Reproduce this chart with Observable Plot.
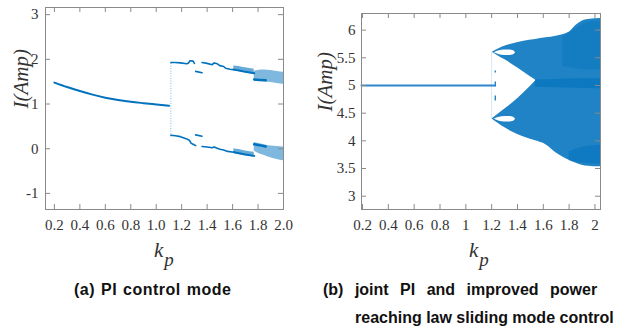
<!DOCTYPE html>
<html><head><meta charset="utf-8">
<script src="https://cdn.jsdelivr.net/npm/d3@7"></script>
<script src="https://cdn.jsdelivr.net/npm/@observablehq/plot@0.6"></script>
<style>
body{margin:0;background:#fff;}
#wrap{position:relative;width:625px;height:333px;overflow:hidden;background:#fff;}
.panel{position:absolute;top:0;}
.kp{position:absolute;font-family:"Liberation Serif","Tinos","Times New Roman",Times,"DejaVu Serif",serif;font-style:italic;font-size:21px;color:#333;line-height:1;white-space:nowrap;}
.kp .sub{font-size:19px;position:relative;top:9px;margin-left:1px;}
.cap{position:absolute;font-family:"Liberation Sans",Arial,Helvetica,sans-serif;font-weight:bold;font-size:16px;color:#111;white-space:nowrap;line-height:1;}
</style></head>
<body>
<div id="wrap">
  <div class="panel" id="pa" style="left:0px"></div>
  <div class="panel" id="pb" style="left:300px"></div>
  <div class="kp" style="left:154px;top:240px">k<span class="sub">p</span></div>
  <div class="kp" style="left:469px;top:240px">k<span class="sub">p</span></div>
  <div class="cap" style="left:74px;top:282px;letter-spacing:0.5px;word-spacing:1px">(a) PI control mode</div>
  <div class="cap" style="left:323px;top:282px;word-spacing:7px">(b) joint PI and improved power</div>
  <div class="cap" style="left:355px;top:310px">reaching law sliding mode control</div>
</div>
<script>
// ---------- Panel (a): PI control mode ----------
const xTicksA = [0.2, 0.4, 0.6, 0.8, 1.0, 1.2, 1.4, 1.6, 1.8, 2.0];
const yTicksA = [-1, 0, 1, 2, 3];
// stable equilibrium branch [kp, I]
const stableA = [[0.2,1.48],[0.3,1.38],[0.4,1.29],[0.5,1.21],[0.6,1.14],[0.7,1.09],[0.8,1.05],[0.9,1.02],[1.0,0.99],[1.1,0.96]];
// transient jump at bifurcation [kp, Ilow, Ihigh]
const jumpA = [[1.115, 0.26, 1.93]];
// period-2 branches [kp, I]
const upperA1 = [[1.115,1.93],[1.15,1.93],[1.19,1.92],[1.24,1.90],[1.255,1.92],[1.265,1.97],[1.29,1.96],[1.30,1.91]];
const upperA2 = [[1.36,1.93],[1.40,1.91],[1.44,1.88],[1.455,1.92],[1.48,1.90],[1.50,1.86],[1.53,1.84],[1.545,1.80],[1.58,1.78],[1.61,1.77]];
const upperA3 = [[1.31,1.73],[1.36,1.70]];
const lowerA1 = [[1.115,0.30],[1.15,0.29],[1.19,0.27],[1.24,0.22],[1.26,0.19],[1.275,0.12],[1.29,0.10],[1.31,0.07]];
const lowerA2 = [[1.36,0.05],[1.40,0.04],[1.44,0.02],[1.455,0.04],[1.48,0.01],[1.50,-0.01],[1.53,-0.03],[1.56,-0.06],[1.61,-0.08]];
const lowerA3 = [[1.31,0.31],[1.36,0.28]];
// chaotic bands [kp, Ilow, Ihigh]
const bandA1 = [[1.61,1.75,1.85],[1.65,1.73,1.84],[1.70,1.70,1.81],[1.77,1.66,1.78]];
const bandA2 = [[1.77,1.50,1.73],[1.80,1.51,1.75],[1.85,1.50,1.76],[1.90,1.48,1.75],[1.95,1.46,1.73],[2.0,1.44,1.71]];
const bandA3 = [[1.61,-0.10,0.00],[1.65,-0.13,-0.02],[1.70,-0.16,-0.05],[1.77,-0.19,-0.08]];
const bandA4 = [[1.77,-0.05,0.14],[1.80,-0.10,0.12],[1.85,-0.15,0.09],[1.90,-0.20,0.06],[1.95,-0.24,0.05],[2.0,-0.27,0.04]];
// dense edges inside chaotic bands [kp, I]
const denseA1 = [[1.61,1.77],[1.65,1.75],[1.70,1.72],[1.77,1.69]];
const denseA2 = [[1.77,1.55],[1.81,1.54],[1.86,1.53]];
const denseA3 = [[1.61,-0.08],[1.65,-0.10],[1.70,-0.13],[1.77,-0.16]];
const denseA4 = [[1.77,0.10],[1.81,0.08],[1.86,0.05]];

// ---------- Panel (b): joint PI + sliding mode control ----------
const xTicksB = [0.2, 0.4, 0.6, 0.8, 1, 1.2, 1.4, 1.6, 1.8, 2];
const yTicksB = [3, 3.5, 4, 4.5, 5, 5.5, 6];
const stableB = [[0.192,5.0],[1.225,5.0]];
const jumpB = [[1.228, 4.72, 5.26]];
// chaotic cloud envelope [kp, Ilow, Ihigh]
const cloudB = [[1.205,4.39,5.60],[1.26,4.30,5.67],[1.30,4.24,5.71],[1.36,4.16,5.75],[1.45,4.07,5.80],[1.54,4.00,5.83],[1.62,3.93,5.86],[1.70,3.78,5.89],[1.80,3.65,5.96],[1.85,3.60,6.08],[1.90,3.56,6.16],[1.95,3.54,6.19],[2.043,3.53,6.21]];
// empty V between the two arms [kp, Ilow, Ihigh]
const gapB = [[1.205,4.40,5.60],[1.26,4.50,5.52],[1.30,4.57,5.47],[1.36,4.68,5.38],[1.45,4.87,5.24],[1.54,5.08,5.10]];
// small holes at the arm tips [kp, Ilow, Ihigh]
const holeUpB = [[1.22,5.59,5.59],[1.26,5.555,5.625],[1.30,5.54,5.64],[1.34,5.54,5.64],[1.37,5.555,5.625],[1.385,5.59,5.59]];
const holeLowB = [[1.22,4.39,4.39],[1.26,4.355,4.425],[1.30,4.34,4.44],[1.34,4.34,4.44],[1.37,4.355,4.425],[1.385,4.39,4.39]];
// denser sub-regions [kp, Ilow, Ihigh]
const denseB1 = [[1.54,4.97,5.10],[1.70,4.96,5.11],[1.85,4.95,5.12],[2.043,4.94,5.12]];
const denseB2 = [[1.80,3.64,3.80],[1.90,3.60,3.88],[2.043,3.58,3.92]];
const denseB3 = [[1.75,5.35,5.88],[1.85,5.30,6.02],[1.95,5.28,6.14],[2.043,5.28,6.16]];

const blue = "#0072BD";
const frameC = "#8a8a8a";
const serif = "'Liberation Serif', Tinos, 'Times New Roman', Times, 'DejaVu Serif', serif";

function boxTicks(xt, yt, fw, fh, len) {
  return [
    Plot.tickX(xt, {x: d => d, insetTop: fh - len, stroke: frameC}),
    Plot.tickX(xt, {x: d => d, insetBottom: fh - len, stroke: frameC}),
    Plot.tickY(yt, {y: d => d, insetRight: fw - len, stroke: frameC}),
    Plot.tickY(yt, {y: d => d, insetLeft: fw - len, stroke: frameC})
  ];
}
const X = d => d[0], Y = d => d[1], Y1 = d => d[1], Y2 = d => d[2];

// Panel (a)
{
  const W = 300, H = 240, mL = 45, mR = 17, mT = 7, mB = 31;
  const fw = W - mL - mR, fh = H - mT - mB;
  const seg = (data, w) => Plot.line(data, {x: X, y: Y, stroke: blue, strokeWidth: w});
  const band = (data, o) => Plot.areaY(data, {x: X, y1: Y1, y2: Y2, fill: blue, fillOpacity: o, curve: "monotone-x"});
  const p = Plot.plot({
    width: W, height: H, marginLeft: mL, marginRight: mR, marginTop: mT, marginBottom: mB,
    x: {domain: [0.13, 2.0]},
    y: {domain: [-1.36, 3.16]},
    style: {fontFamily: serif, fontSize: "15px", color: "#333", background: "#fff"},
    marks: [
      band(bandA1, 0.6), band(bandA2, 0.5), band(bandA3, 0.6), band(bandA4, 0.5),
      seg(denseA1, 2), seg(denseA2, 2.5), seg(denseA3, 2), seg(denseA4, 2.5),
      Plot.ruleX(jumpA, {x: X, y1: Y1, y2: Y2, stroke: blue, strokeOpacity: 0.5, strokeDasharray: "1,1.5"}),
      seg(upperA1, 1.6), seg(upperA2, 1.6), seg(upperA3, 1.6),
      seg(lowerA1, 1.6), seg(lowerA2, 1.6), seg(lowerA3, 1.6),
      Plot.line(stableA, {x: X, y: Y, stroke: blue, strokeWidth: 2, curve: "natural"}),
      Plot.frame({stroke: frameC}),
      ...boxTicks(xTicksA, yTicksA, fw, fh, 5),
      Plot.axisX({ticks: xTicksA, tickSize: 0, tickPadding: 10, tickFormat: d3.format(".1f"), label: null, fontFamily: serif}),
      Plot.axisY({ticks: yTicksA, tickSize: 0, tickPadding: 7, tickFormat: d => d < 0 ? "-" + Math.abs(d) : String(d), label: null, fontFamily: serif}),
      Plot.text(["I(Amp)"], {text: d => d, frameAnchor: "left", dx: -24, rotate: -90, fontStyle: "italic", fontSize: 21, fill: "#333", fontFamily: serif})
    ]
  });
  document.getElementById("pa").appendChild(p);
}

// Panel (b)
{
  const W = 325, H = 240, mL = 61, mR = 25, mT = 13, mB = 31;
  const fw = W - mL - mR, fh = H - mT - mB;
  const area = (data, fill, o) => Plot.areaY(data, {x: X, y1: Y1, y2: Y2, fill, fillOpacity: o, curve: "monotone-x"});
  const p = Plot.plot({
    width: W, height: H, marginLeft: mL, marginRight: mR, marginTop: mT, marginBottom: mB,
    x: {domain: [0.192, 2.043]},
    y: {domain: [2.76, 6.30]},
    style: {fontFamily: serif, fontSize: "15px", color: "#333", background: "#fff"},
    marks: [
      area(cloudB, blue, 0.88),
      area(denseB1, blue, 0.6), area(denseB2, blue, 0.5), area(denseB3, blue, 0.35),
      area(gapB, "#fff", 1),
      area(holeUpB, "#fff", 1), area(holeLowB, "#fff", 1),
      Plot.ruleX(jumpB, {x: X, y1: Y1, y2: Y2, stroke: blue, strokeWidth: 1.2, strokeDasharray: "5,9"}),
      Plot.line(stableB, {x: X, y: Y, stroke: "#2f86cc", strokeWidth: 2}),
      Plot.frame({stroke: frameC}),
      ...boxTicks(xTicksB, yTicksB, fw, fh, 5),
      Plot.axisX({ticks: xTicksB, tickSize: 0, tickPadding: 10, tickFormat: d => String(d), label: null, fontFamily: serif}),
      Plot.axisY({ticks: yTicksB, tickSize: 0, tickPadding: 6, tickFormat: d => String(d), label: null, fontFamily: serif}),
      Plot.text(["I(Amp)"], {text: d => d, frameAnchor: "left", dx: -36, rotate: -90, fontStyle: "italic", fontSize: 21, fill: "#333", fontFamily: serif})
    ]
  });
  document.getElementById("pb").appendChild(p);
}
</script>
</body></html>
